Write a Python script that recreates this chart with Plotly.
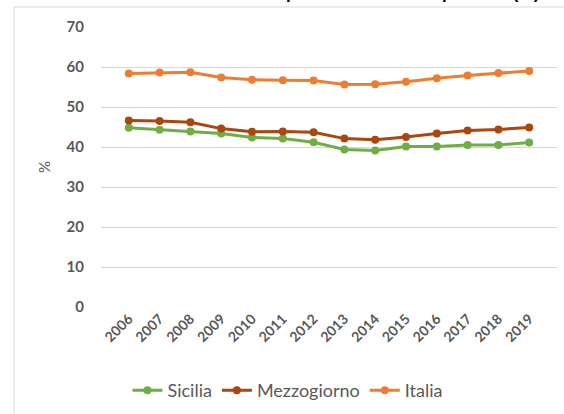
import plotly.graph_objects as go

years = ["2006", "2007", "2008", "2009", "2010", "2011", "2012",
         "2013", "2014", "2015", "2016", "2017", "2018", "2019"]
sicilia = [44.8, 44.3, 43.9, 43.4, 42.4, 42.1, 41.2, 39.4, 39.1, 40.1, 40.1, 40.5, 40.5, 41.1]
mezzogiorno = [46.6, 46.5, 46.2, 44.6, 43.8, 43.9, 43.7, 42.1, 41.8, 42.5, 43.4, 44.1, 44.4, 44.9]
italia = [58.4, 58.6, 58.7, 57.4, 56.8, 56.7, 56.6, 55.6, 55.7, 56.3, 57.2, 57.9, 58.5, 59.0]
y_ticks = [0, 10, 20, 30, 40, 50, 60, 70]

series = [("Sicilia", sicilia, "#70AD47"),
          ("Mezzogiorno", mezzogiorno, "#A9470E"),
          ("Italia", italia, "#ED7D31")]

FONT = "Lato"
GREY = "#595959"

fig = go.Figure()
for name, vals, col in series:
    fig.add_trace(go.Scatter(
        x=years, y=vals, name=name, mode="lines+markers",
        line=dict(color=col, width=3),
        marker=dict(color=col, size=8),
    ))

L, R, T, B = 101, 7, 27, 107
W, H = 564, 414
pw, ph = W - L - R, H - T - B

def px_x(px):
    return (px - L) / pw

def px_y(py):
    return (H - B - py) / ph

fig.update_layout(
    width=W, height=H,
    margin=dict(l=L, r=R, t=T, b=B, autoexpand=False),
    paper_bgcolor="white", plot_bgcolor="white",
    font=dict(family=FONT, color=GREY, size=13),
    showlegend=True,
    legend=dict(orientation="h", x=0.41, xanchor="center", y=px_y(372), yanchor="top",
                font=dict(family=FONT, size=18, color=GREY),
                traceorder="normal", tracegroupgap=0),
    xaxis=dict(type="category", tickangle=-45, showgrid=False, showline=False,
               automargin=False,
               zeroline=False, ticks="", tickfont=dict(family=FONT, size=14, color=GREY,
               weight="bold")),
    yaxis=dict(range=[0, 70], tickvals=y_ticks, showgrid=True, gridcolor="#D9D9D9",
               gridwidth=1, zeroline=False, showline=False, ticks="",
               automargin=False,
               ticklabelstandoff=16,
               tickfont=dict(family=FONT, size=15, color=GREY, weight="bold"),
               title=dict(text="%", standoff=12, font=dict(family=FONT, size=15, color=GREY))),
    shapes=[dict(type="rect", xref="paper", yref="paper",
                 x0=px_x(14), x1=px_x(600), y0=px_y(440), y1=px_y(7),
                 line=dict(color="#D9D9D9", width=1), fillcolor="rgba(0,0,0,0)",
                 layer="below")],
    annotations=[dict(text="Tasso di occupazione 15-64 anni per area (%)",
                      xref="paper", yref="paper", x=px_x(541), xanchor="right",
                      y=px_y(5), yanchor="bottom", showarrow=False,
                      font=dict(family="Liberation Sans", size=17, color="black",
                                weight="bold"))],
)

fig.write_html("out.html", config={"displayModeBar": False},
               post_script="document.body.style.margin='0';document.body.style.overflow='hidden';")
